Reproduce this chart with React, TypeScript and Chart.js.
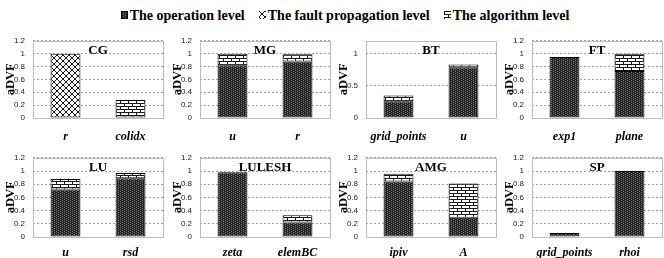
import React, { useEffect, useRef } from 'react';
import { Chart, registerables } from 'chart.js';

Chart.register(...registerables);

// ---------- data ----------
const panelTitles = ['CG', 'MG', 'BT', 'FT', 'LU', 'LULESH', 'AMG', 'SP'];
const categories = [
  ['r', 'colidx'],
  ['u', 'r'],
  ['grid_points', 'u'],
  ['exp1', 'plane'],
  ['u', 'rsd'],
  ['zeta', 'elemBC'],
  ['ipiv', 'A'],
  ['grid_points', 'rhoi'],
];
const seriesNames = ['The operation level', 'The fault propagation level', 'The algorithm level'];
const operationLevel = [[0, 0], [0.82, 0.88], [0.26, 0.79], [0.95, 0.73], [0.72, 0.89], [0.98, 0.22], [0.84, 0.29], [0.06, 1.0]];
const faultPropagationLevel = [[1.0, 0], [0, 0], [0, 0], [0, 0], [0, 0], [0, 0], [0, 0], [0, 0]];
const algorithmLevel = [[0, 0.28], [0.18, 0.11], [0.09, 0.04], [0, 0.27], [0.16, 0.08], [0, 0.11], [0.12, 0.52], [0, 0]];
const yMax = [1.2, 1.2, 1.2, 1.2, 1.2, 1.2, 1.2, 1.2];
const yStep = [0.2, 0.2, 0.5, 0.2, 0.2, 0.2, 0.2, 0.2];

// ---------- layout ----------
const COL_LEFT = [0, 167, 333, 499];
const ROW_TOP = [28, 145];
const ROW_HEIGHT = [117, 113];
const ROW_PAD_TOP = [6, 8];
const ROW_LABEL_PAD = [12, 9];
const PANEL_W = 166;
const PLOT_H = 84;
const Y_AXIS_W = 33;
const PAD_RIGHT = 3;

type Kind = 'op' | 'fault' | 'alg';
const kinds: Kind[] = ['op', 'fault', 'alg'];

function patternCanvas(kind: Kind): HTMLCanvasElement {
  const c = document.createElement('canvas');
  const ctx = c.getContext('2d')!;
  if (kind === 'op') {
    c.width = 4; c.height = 2;
    ctx.fillStyle = '#232323';
    ctx.fillRect(0, 0, 4, 2);
    ctx.fillStyle = '#7a7a7a';
    ctx.fillRect(0, 0, 1, 1);
    ctx.fillRect(2, 1, 1, 1);
  } else if (kind === 'fault') {
    c.width = 6; c.height = 6;
    ctx.fillStyle = '#ffffff';
    ctx.fillRect(0, 0, 6, 6);
    ctx.fillStyle = '#1a1a1a';
    for (let i = 0; i < 6; i++) {
      ctx.fillRect(i, i, 1, 1);
      ctx.fillRect(i, 5 - i, 1, 1);
    }
  } else {
    c.width = 8; c.height = 6;
    ctx.fillStyle = '#ffffff';
    ctx.fillRect(0, 0, 8, 6);
    ctx.fillStyle = '#1a1a1a';
    ctx.fillRect(0, 0, 8, 1);
    ctx.fillRect(0, 3, 8, 1);
    ctx.fillRect(0, 1, 1, 2);
    ctx.fillRect(4, 4, 1, 2);
  }
  return c;
}

function makePattern(kind: Kind): CanvasPattern {
  const ctx = document.createElement('canvas').getContext('2d')!;
  return ctx.createPattern(patternCanvas(kind), 'repeat')!;
}

function Swatch({ kind }: { kind: Kind }) {
  const ref = useRef<HTMLCanvasElement | null>(null);
  useEffect(() => {
    const c = ref.current;
    if (!c) return;
    const ctx = c.getContext('2d')!;
    ctx.fillStyle = makePattern(kind);
    ctx.fillRect(0, 0, c.width, c.height);
    if (kind === 'op') {
      ctx.strokeStyle = '#000';
      ctx.lineWidth = 1;
      ctx.strokeRect(0.5, 0.5, c.width - 1, c.height - 1);
    }
  }, [kind]);
  return <canvas ref={ref} width={7} height={8} style={{ width: 7, height: 8, marginRight: 2, marginTop: -3 }} />;
}

const fmtTick = (v: any) => String(Math.round(Number(v) * 10) / 10);

export default function App() {
  const refs = useRef<(HTMLCanvasElement | null)[]>([]);

  useEffect(() => {
    document.body.style.margin = '0';
    const pats: Record<Kind, CanvasPattern> = {
      op: makePattern('op'),
      fault: makePattern('fault'),
      alg: makePattern('alg'),
    };
    const seriesData = [operationLevel, faultPropagationLevel, algorithmLevel];

    const charts = panelTitles.map((title, i) => {
      const row = Math.floor(i / 4);
      const canvas = refs.current[i]!;
      const xHeight = ROW_HEIGHT[row] - ROW_PAD_TOP[row] - PLOT_H;
      const framePlugin = {
        id: 'frame' + i,
        beforeDatasetsDraw(chart: any) {
          const { ctx, chartArea: a } = chart;
          ctx.save();
          ctx.strokeStyle = '#bdbdbd';
          ctx.lineWidth = 1;
          ctx.setLineDash([]);
          ctx.strokeRect(Math.round(a.left) + 0.5, Math.round(a.top) + 0.5, Math.round(a.right - a.left), Math.round(a.bottom - a.top));
          ctx.restore();
        },
        afterDraw(chart: any) {
          const { ctx, chartArea: a } = chart;
          ctx.save();
          ctx.font = 'bold 13px "Liberation Serif"';
          ctx.fillStyle = '#000';
          ctx.textAlign = 'center';
          ctx.textBaseline = 'middle';
          ctx.fillText(title, (a.left + a.right) / 2, a.top + 9.5);
          ctx.restore();
        },
      };
      return new Chart(canvas, {
        type: 'bar',
        data: {
          labels: categories[i],
          datasets: kinds.map((k, s) => ({
            label: seriesNames[s],
            data: seriesData[s][i],
            backgroundColor: pats[k],
            borderColor: '#000',
            borderWidth: 1,
            borderSkipped: false,
            barPercentage: 0.46,
            categoryPercentage: 1,
          })),
        },
        options: {
          animation: false,
          responsive: false,
          devicePixelRatio: 1,
          layout: { padding: { top: ROW_PAD_TOP[row], right: PAD_RIGHT, left: 0, bottom: 0 } },
          plugins: { legend: { display: false }, tooltip: { enabled: false } },
          scales: {
            x: {
              stacked: true,
              grid: { display: false, drawTicks: false },
              border: { display: false },
              ticks: {
                font: { family: '"Liberation Serif"', size: 12, weight: 'bold', style: 'italic' },
                color: '#000',
                padding: ROW_LABEL_PAD[row],
                maxRotation: 0,
                autoSkip: false,
              },
              afterFit: (s: any) => { s.height = xHeight; },
            },
            y: {
              stacked: true,
              min: 0,
              max: yMax[i],
              grid: { color: '#a3a3a3', drawTicks: false, lineWidth: 1 },
              border: { display: false, dash: [2, 2] },
              ticks: {
                stepSize: yStep[i],
                includeBounds: false,
                font: { family: '"Liberation Sans"', size: 8 },
                color: '#222',
                padding: 8,
                callback: fmtTick,
              },
              title: {
                display: true,
                text: 'aDVF',
                font: { family: '"Liberation Serif"', size: 12.5, weight: 'bold' },
                color: '#000',
                padding: { top: 3, bottom: 0 },
              },
              afterFit: (s: any) => { s.width = Y_AXIS_W; },
            },
          },
        } as any,
        plugins: [framePlugin],
      });
    });
    return () => charts.forEach((c) => c.destroy());
  }, []);

  return (
    <div style={{ position: 'relative', width: 664, height: 258, overflow: 'hidden', background: '#fff' }}>
      <div
        style={{
          position: 'absolute',
          left: 0,
          top: 7,
          width: 690,
          display: 'flex',
          justifyContent: 'center',
          alignItems: 'center',
          whiteSpace: 'nowrap',
          font: 'bold 14px "Liberation Serif"',
          lineHeight: '18px',
          color: '#000',
        }}
      >
        {kinds.map((k, s) => (
          <span key={k} style={{ display: 'flex', alignItems: 'center', marginRight: s < 2 ? 14 : 0 }}>
            <Swatch kind={k} />
            <span>{seriesNames[s]}</span>
          </span>
        ))}
      </div>
      {panelTitles.map((t, i) => {
        const row = Math.floor(i / 4);
        const col = i % 4;
        return (
          <canvas
            key={t}
            ref={(el) => { refs.current[i] = el; }}
            width={PANEL_W}
            height={ROW_HEIGHT[row]}
            style={{ position: 'absolute', left: COL_LEFT[col], top: ROW_TOP[row], width: PANEL_W, height: ROW_HEIGHT[row] }}
          />
        );
      })}
    </div>
  );
}
